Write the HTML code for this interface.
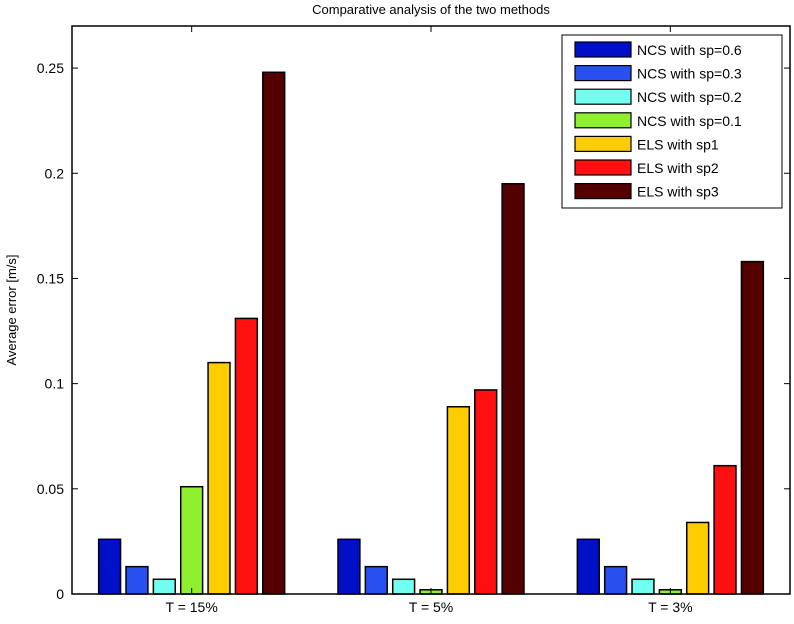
<!DOCTYPE html>
<html><head><meta charset="utf-8"><style>
body{margin:0;background:#fff;}
svg text{font-family:"Liberation Sans",Helvetica,sans-serif;fill:#000;}
</style></head><body>
<svg id="chart" width="794" height="619" xmlns="http://www.w3.org/2000/svg">
<text x="431" y="14" font-size="13" text-anchor="middle">Comparative analysis of the two methods</text>
<text transform="translate(16,310) rotate(-90)" font-size="13" text-anchor="middle">Average error [m/s]</text>
<g id="bars"></g><g id="axes"></g><g id="legend"></g>
</svg>
<script>
const categories = ["T = 15%", "T = 5%", "T = 3%"];
const seriesNames = ["NCS with sp=0.6","NCS with sp=0.3","NCS with sp=0.2","NCS with sp=0.1","ELS with sp1","ELS with sp2","ELS with sp3"];
const seriesColors = ["#0010c8","#2850f0","#70fff0","#90f030","#ffcc00","#ff1010","#550000"];
const ncs06 = [0.026, 0.026, 0.026];
const ncs03 = [0.013, 0.013, 0.013];
const ncs02 = [0.007, 0.007, 0.007];
const ncs01 = [0.051, 0.002, 0.002];
const els1 = [0.110, 0.089, 0.034];
const els2 = [0.131, 0.097, 0.061];
const els3 = [0.248, 0.195, 0.158];
const yTicks = [0, 0.05, 0.1, 0.15, 0.2, 0.25];
const yTickLabels = ["0","0.05","0.1","0.15","0.2","0.25"];
const series = [ncs06, ncs03, ncs02, ncs01, els1, els2, els3];
const L=72,R=790,T=26,B=594,yMax=0.27;
const NS="http://www.w3.org/2000/svg";
const xS = i => L + (i + 0.5) * (R - L) / categories.length;
const yS = v => B - v / yMax * (B - T);
function mk(tag, attrs, parent){const e=document.createElementNS(NS,tag);for(const k in attrs)e.setAttribute(k,attrs[k]);parent.appendChild(e);return e;}
const gb=document.getElementById('bars'),ga=document.getElementById('axes'),gl=document.getElementById('legend');
const unit=(R-L)/categories.length, pitch=unit*0.8/series.length, bw=pitch*0.8;
series.forEach((s,si)=>{s.forEach((v,ci)=>{
  const cx=xS(ci)+(si-(series.length-1)/2)*pitch;
  const r=mk('rect',{x:cx-bw/2,y:yS(v),width:bw,height:B-yS(v),fill:seriesColors[si],stroke:'#000','stroke-width':1.5},gb);
  
  
});});
const frame=mk('rect',{x:L,y:T,width:R-L,height:B-T,fill:'none',stroke:'#000','stroke-width':1.5},ga);


yTicks.forEach((v,i)=>{
  const y=yS(v);
  mk('line',{x1:L,x2:L+6,y1:y,y2:y,stroke:'#000'},ga);
  mk('line',{x1:R,x2:R-6,y1:y,y2:y,stroke:'#000'},ga);
  const t=mk('text',{x:L-8,y:y+5,'font-size':14,'text-anchor':'end'},ga);
  t.textContent=yTickLabels[i];
  
  
});
categories.forEach((c,i)=>{
  const x=xS(i);
  mk('line',{x1:x,x2:x,y1:B,y2:B-6,stroke:'#000'},ga);
  mk('line',{x1:x,x2:x,y1:T,y2:T+6,stroke:'#000'},ga);
  const t=mk('text',{x:x,y:B+18,'font-size':14,'text-anchor':'middle'},ga);
  t.textContent=c;
  
  
});
const lb=mk('rect',{x:562,y:35,width:220,height:173,fill:'#fff',stroke:'#000','stroke-width':1},gl);


seriesNames.forEach((n,i)=>{
  const y=42+i*23.6;
  const sw=mk('rect',{x:575,y:y,width:56,height:15,fill:seriesColors[i],stroke:'#000','stroke-width':1.2},gl);
  
  
  const t=mk('text',{x:637,y:y+13,'font-size':14},gl);
  t.textContent=n;
  
  
});
</script>
</body></html>
